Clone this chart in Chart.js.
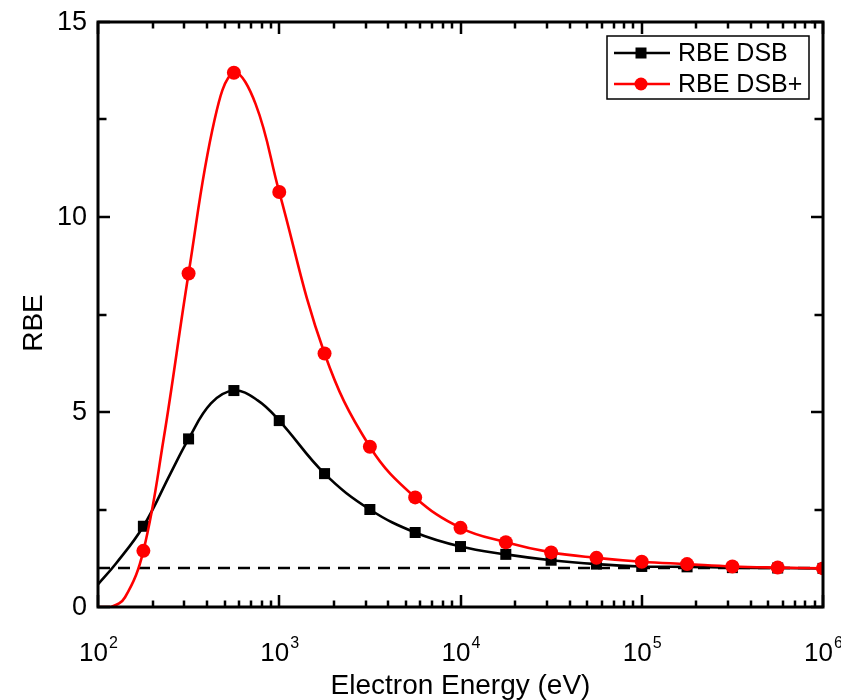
<!DOCTYPE html>
<html>
<head>
<meta charset="utf-8">
<script src="https://cdn.jsdelivr.net/npm/chart.js@4/dist/chart.umd.min.js"></script>
<style>
  html, body { margin: 0; padding: 0; background: #ffffff; }
  canvas { display: block; }
</style>
</head>
<body>
<canvas id="chart" width="841" height="700"></canvas>
<script>
// Marker positions (electron energy, eV) and RBE values
const markerEnergy = [178, 316, 562, 1000, 1778, 3162, 5623, 10000, 17783, 31623, 56234, 100000, 177828, 316228, 562341, 1000000];
const rbeDsb       = [2.07, 4.31, 5.55, 4.78, 3.42, 2.50, 1.91, 1.55, 1.35, 1.20, 1.10, 1.04, 1.03, 1.01, 1.00, 0.99];
const rbeDsbPlus   = [1.44, 8.55, 13.70, 10.64, 6.50, 4.11, 2.81, 2.03, 1.66, 1.40, 1.26, 1.16, 1.10, 1.04, 1.01, 0.99];

// Smooth fitted curves through the markers
const dsbCurveEnergy  = [100, 126, 178, 251, 316, 420, 562, 760, 1000, 1778, 3162, 5623, 10000, 17783, 31623, 56234, 100000, 177828, 316228, 562341, 1000000];
const dsbCurve        = [0.58, 1.12, 2.07, 3.42, 4.31, 5.22, 5.55, 5.30, 4.78, 3.42, 2.50, 1.91, 1.55, 1.35, 1.20, 1.10, 1.04, 1.03, 1.01, 1.00, 0.99];
const plusCurveEnergy = [100, 118, 141, 178, 230, 316, 440, 562, 740, 1000, 1778, 3162, 5623, 10000, 17783, 31623, 56234, 100000, 177828, 316228, 562341, 1000000];
const dsbPlusCurve    = [0.00, 0.00, 0.25, 1.44, 4.30, 8.55, 12.50, 13.70, 12.90, 10.64, 6.50, 4.11, 2.81, 2.03, 1.66, 1.40, 1.26, 1.16, 1.10, 1.04, 1.01, 0.99];

// Reference level RBE = 1
const refEnergy = [100, 1000000];
const refLevel  = [1, 1];

// Axis tick values and labels
const xDecades   = [100, 1000, 10000, 100000, 1000000];
const xExponents = ['2', '3', '4', '5', '6'];
const yMajor     = [0, 5, 10, 15];
const yMinor     = [2.5, 7.5, 12.5];

const seriesNames = ['RBE DSB', 'RBE DSB+'];

const pts = (xs, ys) => xs.map((x, i) => ({ x: x, y: ys[i] }));

const FONT = '"Liberation Sans", Arial, sans-serif';

// Draws the boxed frame, inward ticks on all sides, tick labels, axis titles and legend
const framePlugin = {
  id: 'frame',
  afterDatasetsDraw(chart) {
    const ctx = chart.ctx;
    const a = chart.chartArea;
    const xs = chart.scales.x;
    const ys = chart.scales.y;
    ctx.save();
    ctx.strokeStyle = '#000';
    ctx.lineCap = 'butt';

    // ticks
    ctx.lineWidth = 2.5;
    const major = 12, minor = 6.5;
    for (let d = 0; d < xDecades.length; d++) {
      for (let m = 1; m <= 9; m++) {
        const v = xDecades[d] * m;
        if (v > xDecades[xDecades.length - 1]) break;
        const px = Math.round(xs.getPixelForValue(v));
        const len = m === 1 ? major : minor;
        ctx.beginPath();
        ctx.moveTo(px, a.bottom); ctx.lineTo(px, a.bottom - len);
        ctx.moveTo(px, a.top); ctx.lineTo(px, a.top + len);
        ctx.stroke();
      }
    }
    const yTick = (v, len) => {
      const py = Math.round(ys.getPixelForValue(v));
      ctx.beginPath();
      ctx.moveTo(a.left, py); ctx.lineTo(a.left + len, py);
      ctx.moveTo(a.right, py); ctx.lineTo(a.right - len, py);
      ctx.stroke();
    };
    yMajor.forEach(v => yTick(v, major));
    yMinor.forEach(v => yTick(v, 8.5));

    // frame
    ctx.lineWidth = 3;
    ctx.strokeRect(a.left, a.top, a.right - a.left, a.bottom - a.top);

    // y tick labels
    ctx.fillStyle = '#000';
    ctx.font = '27px ' + FONT;
    ctx.textAlign = 'right';
    ctx.textBaseline = 'middle';
    yMajor.forEach(v => ctx.fillText(String(v), a.left - 11, ys.getPixelForValue(v) + 1));

    // x tick labels: 10 with superscript exponent
    xDecades.forEach((v, i) => {
      const px = xs.getPixelForValue(v);
      ctx.font = '26px ' + FONT;
      const wb = ctx.measureText('10').width;
      ctx.font = '16px ' + FONT;
      const we = ctx.measureText(xExponents[i]).width;
      const x0 = px - (wb + we) / 2;
      ctx.textAlign = 'left';
      ctx.textBaseline = 'alphabetic';
      ctx.font = '26px ' + FONT;
      ctx.fillText('10', x0, 661);
      ctx.font = '16px ' + FONT;
      ctx.fillText(xExponents[i], x0 + wb + 1, 648);
    });

    // axis titles
    ctx.font = '28px ' + FONT;
    ctx.textAlign = 'center';
    ctx.textBaseline = 'alphabetic';
    ctx.fillText('Electron Energy (eV)', (a.left + a.right) / 2, 694);
    ctx.save();
    ctx.translate(42, 323);
    ctx.rotate(-Math.PI / 2);
    ctx.fillText('RBE', 0, 0);
    ctx.restore();

    // legend
    const lx = 607, ly = 36, lw = 202, lh = 63;
    ctx.lineWidth = 1.5;
    ctx.strokeStyle = '#000';
    ctx.strokeRect(lx, ly, lw, lh);
    const rows = [
      { y: 53, color: '#000000', shape: 'square' },
      { y: 84, color: '#ff0000', shape: 'circle' }
    ];
    rows.forEach((r, i) => {
      ctx.strokeStyle = r.color;
      ctx.fillStyle = r.color;
      ctx.lineWidth = 2.5;
      ctx.beginPath();
      ctx.moveTo(614, r.y); ctx.lineTo(670, r.y);
      ctx.stroke();
      if (r.shape === 'square') {
        ctx.fillRect(641 - 5.5, r.y - 5.5, 11, 11);
      } else {
        ctx.beginPath();
        ctx.arc(641, r.y, 6.5, 0, Math.PI * 2);
        ctx.fill();
      }
      ctx.fillStyle = '#000';
      ctx.font = '25px ' + FONT;
      ctx.textAlign = 'left';
      ctx.textBaseline = 'middle';
      ctx.fillText(seriesNames[i], 678, r.y + 1);
    });
    ctx.restore();
  }
};

new Chart(document.getElementById('chart').getContext('2d'), {
  type: 'line',
  data: {
    datasets: [
      {
        label: seriesNames[1] + ' markers',
        data: pts(markerEnergy, rbeDsbPlus),
        showLine: false,
        pointStyle: 'circle',
        pointRadius: 7,
        pointBackgroundColor: '#ff0000',
        pointBorderWidth: 0,
        order: 0
      },
      {
        label: seriesNames[1],
        data: pts(plusCurveEnergy, dsbPlusCurve),
        borderColor: '#ff0000',
        borderWidth: 2.6,
        pointRadius: 0,
        tension: 0.4,
        clip: 0,
        order: 1
      },
      {
        label: seriesNames[0] + ' markers',
        data: pts(markerEnergy, rbeDsb),
        showLine: false,
        pointStyle: 'rect',
        pointRadius: 7.8,
        pointBackgroundColor: '#000000',
        pointBorderWidth: 0,
        order: 2
      },
      {
        label: seriesNames[0],
        data: pts(dsbCurveEnergy, dsbCurve),
        borderColor: '#000000',
        borderWidth: 2.6,
        pointRadius: 0,
        tension: 0.4,
        clip: 0,
        order: 3
      },
      {
        label: 'RBE = 1',
        data: pts(refEnergy, refLevel),
        borderColor: '#000000',
        borderWidth: 2.5,
        borderDash: [12, 8],
        pointRadius: 0,
        order: 4
      }
    ]
  },
  options: {
    responsive: false,
    animation: false,
    layout: { padding: { left: 98, right: 18, top: 22, bottom: 93 } },
    scales: {
      x: { type: 'logarithmic', min: 100, max: 1000000, display: false },
      y: { type: 'linear', min: 0, max: 15, display: false }
    },
    plugins: {
      legend: { display: false },
      tooltip: { enabled: false }
    }
  },
  plugins: [framePlugin]
});
</script>
</body>
</html>
